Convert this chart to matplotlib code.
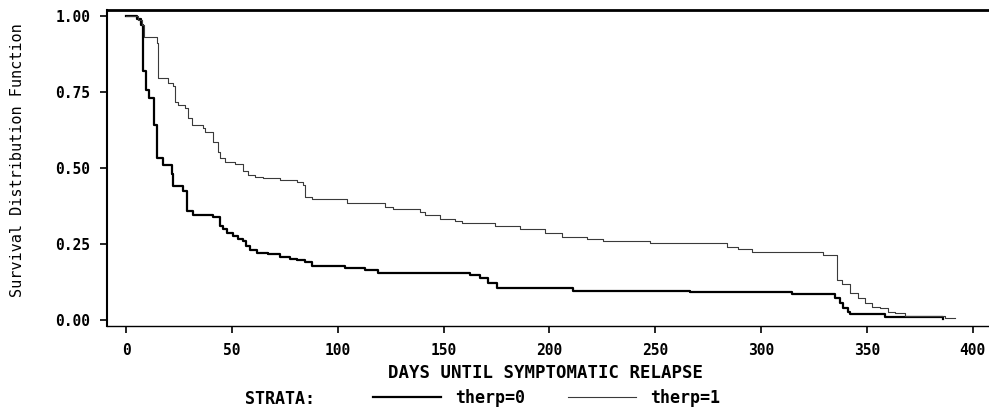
import matplotlib
matplotlib.use("Agg")
import matplotlib.pyplot as plt

# Kaplan-Meier estimates (days, survival), step "post"
days_0 = [0, 5.2, 7.1, 8.0, 9.4, 10.9, 13.2, 14.6, 17.5, 21.7, 22.2, 26.9, 28.8,
          31.6, 41.1, 44.4, 46.0, 47.7, 50.5, 53.0, 55.3, 56.8, 58.6, 61.9, 67.0,
          72.7, 77.5, 81.0, 84.6, 87.9, 103.4, 112.9, 119.0, 162.5, 167.2, 171.0,
          175.2, 211.1, 266.4, 314.6, 334.9, 337.3, 338.7, 341.1, 342.0, 358.5,
          385.9]
surv_0 = [1.0, 0.99, 0.97, 0.82, 0.757, 0.73, 0.64, 0.533, 0.51, 0.48, 0.44, 0.425,
          0.36, 0.345, 0.34, 0.31, 0.30, 0.285, 0.275, 0.268, 0.26, 0.245, 0.23,
          0.22, 0.216, 0.207, 0.2, 0.196, 0.19, 0.178, 0.171, 0.164, 0.155, 0.148,
          0.138, 0.122, 0.105, 0.097, 0.092, 0.086, 0.072, 0.056, 0.04, 0.026,
          0.02, 0.01, 0.004]

days_1 = [0, 5.7, 7.6, 8.5, 14.6, 15.1, 19.8, 22.2, 23.1, 24.6, 27.9, 29.3, 31.2,
          36.4, 37.3, 41.1, 43.5, 44.4, 46.8, 51.5, 55.3, 57.6, 61.0, 64.7, 72.7,
          80.8, 83.6, 84.6, 87.9, 104.4, 122.3, 126.1, 138.9, 141.2, 148.3, 155.4,
          158.7, 174.3, 186.1, 197.9, 206.0, 217.8, 225.3, 247.5, 283.9, 289.1,
          295.7, 329.2, 335.8, 338.2, 342.0, 345.8, 349.1, 352.4, 356.2, 359.9,
          363.3, 368.0, 386.9, 391.6]
surv_1 = [1.0, 0.987, 0.97, 0.93, 0.91, 0.796, 0.78, 0.77, 0.717, 0.707, 0.697,
          0.664, 0.64, 0.63, 0.62, 0.585, 0.553, 0.533, 0.52, 0.513, 0.49, 0.477,
          0.472, 0.467, 0.46, 0.454, 0.444, 0.405, 0.398, 0.385, 0.372, 0.365,
          0.355, 0.345, 0.332, 0.326, 0.32, 0.31, 0.30, 0.287, 0.272, 0.267, 0.26,
          0.253, 0.24, 0.233, 0.224, 0.214, 0.13, 0.12, 0.089, 0.072, 0.056,
          0.043, 0.039, 0.026, 0.023, 0.013, 0.007, 0.007]

x_ticks = [0, 50, 100, 150, 200, 250, 300, 350, 400]
y_ticks = [0.0, 0.25, 0.5, 0.75, 1.0]
y_tick_labels = ["0.00", "0.25", "0.50", "0.75", "1.00"]
strata_labels = ["therp=0", "therp=1"]

mono = "DejaVu Sans Mono"

fig = plt.figure(figsize=(9.89, 4.08), dpi=100)
ax = fig.add_axes([107 / 989, 1 - 326 / 408, 1 - 107 / 989, 316 / 408])

l0, = ax.step(days_0, surv_0, where="post", color="black", lw=1.6)
l1, = ax.step(days_1, surv_1, where="post", color="#3a3a3a", lw=0.8)

ax.set_xlim(-9.0, 407.7)
ax.set_ylim(-0.0197, 1.0197)

ax.set_xticks(x_ticks)
ax.set_xticklabels([str(t) for t in x_ticks])
ax.set_yticks(y_ticks)
ax.set_yticklabels(y_tick_labels)
ax.tick_params(direction="out", length=5, width=1.2, color="black", pad=7)
for lab in ax.get_xticklabels() + ax.get_yticklabels():
    lab.set_fontfamily(mono)
    lab.set_fontweight("bold")
    lab.set_fontsize(10.5)

ax.spines["right"].set_visible(False)
ax.spines["top"].set_linewidth(2.0)
ax.spines["left"].set_linewidth(1.5)
ax.spines["bottom"].set_linewidth(1.0)

ax.set_xlabel("DAYS UNTIL SYMPTOMATIC RELAPSE", fontfamily=mono,
              fontweight="bold", fontsize=12.5)
ax.xaxis.set_label_coords(0.4966, -0.149)
ax.xaxis.label.set_va("center")

ax.set_ylabel("Survival Distribution Function", fontfamily=mono, fontsize=11)
ax.yaxis.set_label_coords(-0.101, 0.525)
ax.yaxis.label.set_va("center")

fig.text(245 / 989, 1 - 399 / 408, "STRATA:", fontfamily=mono,
         fontweight="bold", fontsize=12, va="center", ha="left")
fig.legend([l0, l1], strata_labels, loc="center left",
           bbox_to_anchor=(373 / 989, 1 - 398 / 408), ncol=2, frameon=False,
           borderpad=0, borderaxespad=0, handlelength=4.1, handletextpad=0.8,
           columnspacing=2.6,
           prop={"family": mono, "weight": "bold", "size": 12})

fig.savefig("out.png", dpi=100)
